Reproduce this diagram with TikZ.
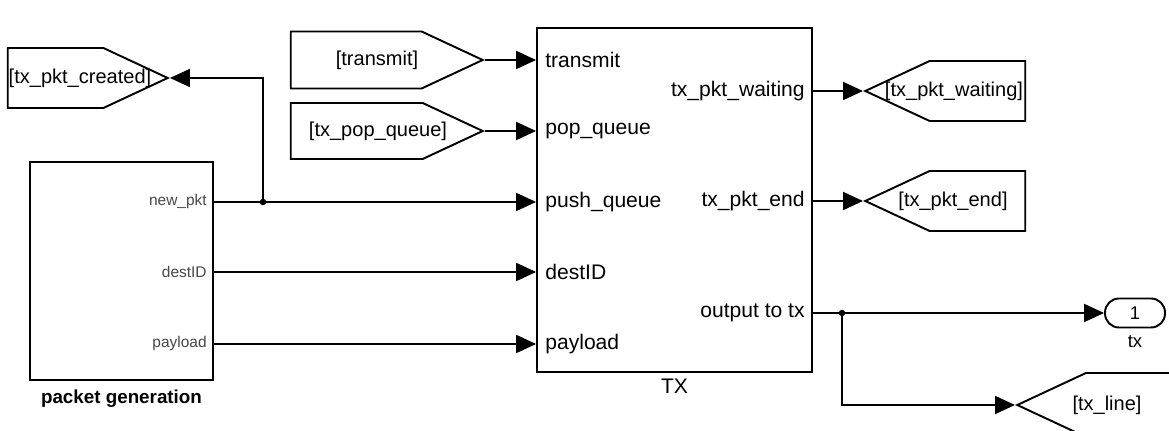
\documentclass[tikz,border=0pt]{standalone}
\usepackage{fontspec}
\setmainfont{Liberation Sans}
\usetikzlibrary{arrows.meta,positioning,shapes.symbols}
\tikzset{
  blk/.style={draw,line width=1.1pt,rectangle,inner sep=0pt},
  tag/.style={draw,line width=1.1pt,signal,signal pointer angle=50,inner sep=0pt,minimum height=1.2cm},
  tagtext/.style={inner sep=0pt,font=\fontsize{11.4}{13}\selectfont},
  wire/.style={line width=1.1pt,-{Triangle[length=0.4cm,width=0.36cm]}},
  plain/.style={line width=1.1pt},
  port/.style={font=\fontsize{12}{14}\selectfont,inner sep=0pt},
  gport/.style={font=\fontsize{8.8}{10}\selectfont,text=black!72,inner sep=0pt},
  jdot/.style={circle,fill,inner sep=0pt,minimum size=0.13cm},
}
\begin{document}
\begin{tikzpicture}[x=0.02cm,y=-0.02cm]
\clip (0,0) rectangle (1169,431);
% tags
\node (created) at (170,78) [tag,signal to=east,anchor=east,minimum width=3.2cm] {};
\node (createdtxt) at (80,78) [tagtext] {[tx\_pkt\_created]};
\node (transmit) at (485,60) [tag,signal to=east,anchor=east,minimum width=3.84cm,minimum height=1.14cm] {};
\node (transmittxt) at (377,60) [tagtext] {[transmit]};
\node (popq) at (485,131) [tag,signal to=east,anchor=east,minimum width=3.84cm,minimum height=1.12cm] {};
\node (popqtxt) at (378,131) [tagtext] {[tx\_pop\_queue]};
\node (waiting) at (863,91) [tag,signal to=west,anchor=west,minimum width=3.2cm] {};
\node (waitingtxt) at (954,91) [tagtext] {[tx\_pkt\_waiting]};
\node (pktend) at (863,201) [tag,signal to=west,anchor=west,minimum width=3.2cm] {};
\node (pktendtxt) at (953,201) [tagtext] {[tx\_pkt\_end]};
\node (txline) at (1015,405) [tag,signal to=west,anchor=west,minimum width=4cm,minimum height=1.28cm] {};
\node (txlinetxt) at (1107,405) [tagtext] {[tx\_line]};

% packet generation block
\node (gen) at (121.5,271) [blk,minimum width=3.66cm,minimum height=4.36cm] {};
\node (gname) [below=0.17cm of gen,inner sep=0pt,font=\fontsize{10.7}{12}\selectfont\bfseries] {packet generation};
\node (gnew) at (207,202) [gport,anchor=east] {new\_pkt};
\node (gdest) at (207,272) [gport,anchor=east] {destID};
\node (gpay) at (207,344) [gport,anchor=east] {payload};

% TX block
\node (tx) at (674.5,200) [blk,minimum width=5.5cm,minimum height=6.88cm] {};
\node (txname) [below=0.12cm of tx,inner sep=0pt,font=\fontsize{12}{14}\selectfont] {TX};
\node (ttransmit) at (545,60) [port,anchor=west] {transmit};
\node (tpop) at (545,131) [port,anchor=west] {pop\_queue};
\node (tpush) at (545,202) [port,anchor=west] {push\_queue};
\node (tdest) at (545,272) [port,anchor=west] {destID};
\node (tpay) at (545,344) [port,anchor=west] {payload};
\node (twait) at (805,91) [port,anchor=east] {tx\_pkt\_waiting};
\node (tend) at (805,201) [port,anchor=east] {tx\_pkt\_end};
\node (tout) at (805,313) [port,anchor=east] {output to tx};

% outport
\node (out1) at (1135,313) [draw,line width=1.1pt,rounded corners=0.28cm,minimum width=1.2cm,minimum height=0.58cm,inner sep=0pt,font=\fontsize{10.5}{12}\selectfont] {1};
\node (outname) [below=0.14cm of out1,inner sep=0pt,font=\fontsize{10.5}{12}\selectfont] {tx};

% junctions
\node (j1) at (263,202) [jdot] {};
\node (j2) at (842,313) [jdot] {};

% lines
\draw [wire] (transmit.east) -- (transmit.east -| tx.west);
\draw [wire] (popq.east) -- (popq.east -| tx.west);
\draw [wire] (gnew.east -| gen.east) -- (tpush.west -| tx.west);
\draw [wire] (gdest.east -| gen.east) -- (tdest.west -| tx.west);
\draw [wire] (gpay.east -| gen.east) -- (tpay.west -| tx.west);
\draw [wire] (j1.center) |- (created.east);
\draw [wire] (twait.east -| tx.east) -- (waiting.west);
\draw [wire] (tend.east -| tx.east) -- (pktend.west);
\draw [wire] (tout.east -| tx.east) -- (out1.west);
\draw [wire] (j2.center) |- (txline.west);
\end{tikzpicture}
\end{document}
